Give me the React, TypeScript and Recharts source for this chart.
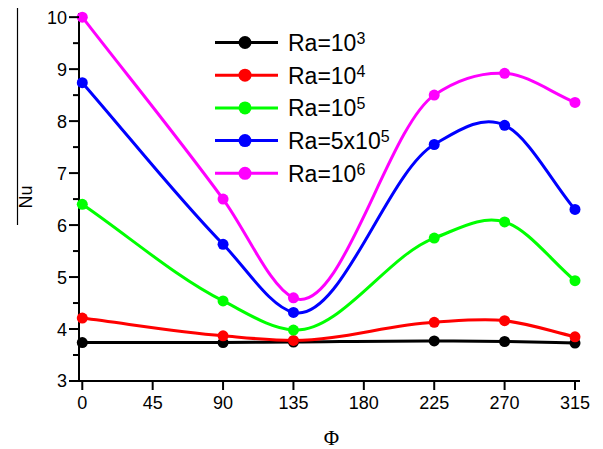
import React from "react";
import { LineChart, Line, XAxis, YAxis } from "recharts";

const PHI = [0, 90, 135, 225, 270, 315];
const RA_1E3 = [3.74, 3.74, 3.75, 3.77, 3.76, 3.73];
const RA_1E4 = [4.21, 3.87, 3.78, 4.13, 4.16, 3.85];
const RA_1E5 = [6.4, 4.54, 3.98, 5.75, 6.06, 4.93];
const RA_5E5 = [8.74, 5.63, 4.32, 7.55, 7.92, 6.3];
const RA_1E6 = [10.0, 6.5, 4.6, 8.5, 8.92, 8.36];

const X_TICKS = [0, 45, 90, 135, 180, 225, 270, 315];
const Y_TICKS = [3, 3.5, 4, 4.5, 5, 5.5, 6, 6.5, 7, 7.5, 8, 8.5, 9, 9.5, 10];

const SERIES = [
  { key: "ra3", base: "Ra=10", exp: "3", color: "#000000", values: RA_1E3 },
  { key: "ra4", base: "Ra=10", exp: "4", color: "#ff0000", values: RA_1E4 },
  { key: "ra5", base: "Ra=10", exp: "5", color: "#00ff00", values: RA_1E5 },
  { key: "ra5x5", base: "Ra=5x10", exp: "5", color: "#0000ff", values: RA_5E5 },
  { key: "ra6", base: "Ra=10", exp: "6", color: "#ff00ff", values: RA_1E6 },
];

const data = PHI.map((phi, i) => {
  const row: Record<string, number> = { phi };
  SERIES.forEach((s) => {
    row[s.key] = s.values[i];
  });
  return row;
});

const FONT = "'Liberation Sans', Arial, sans-serif";
const TICK_SIZE = 10;
const TICK_MARGIN = 2;

// cubic hermite through the points, tangent from the 3-point parabola
// (lets the curve overshoot a bit like the original spline)
function splineCurve(context: any) {
  let xs: number[] = [];
  let ys: number[] = [];
  return {
    areaStart() {},
    areaEnd() {},
    lineStart() {
      xs = [];
      ys = [];
    },
    point(x: number, y: number) {
      xs.push(+x);
      ys.push(+y);
    },
    lineEnd() {
      const n = xs.length;
      if (!n) return;
      context.moveTo(xs[0], ys[0]);
      if (n === 1) return;
      const s: number[] = [];
      const h: number[] = [];
      for (let i = 0; i < n - 1; i++) {
        h.push(xs[i + 1] - xs[i]);
        s.push((ys[i + 1] - ys[i]) / h[i]);
      }
      const m: number[] = [];
      for (let i = 0; i < n; i++) {
        if (i === 0) m.push(s[0]);
        else if (i === n - 1) m.push(s[n - 2]);
        else m.push((h[i] * s[i - 1] + h[i - 1] * s[i]) / (h[i - 1] + h[i]));
      }
      for (let i = 0; i < n - 1; i++) {
        const d = h[i] / 3;
        context.bezierCurveTo(
          xs[i] + d,
          ys[i] + m[i] * d,
          xs[i + 1] - d,
          ys[i + 1] - m[i + 1] * d,
          xs[i + 1],
          ys[i + 1]
        );
      }
    },
  };
}

const YTick = (props: any) => {
  const { x, y, payload } = props;
  const v = payload.value as number;
  const major = Number.isInteger(v);
  const axisX = x + TICK_SIZE + TICK_MARGIN;
  return (
    <g>
      <line
        x1={axisX - (major ? 10 : 6)}
        x2={axisX}
        y1={y}
        y2={y}
        stroke="#000"
        strokeWidth={2}
      />
      {major && (
        <text
          x={axisX - 12}
          y={y}
          dy="0.36em"
          textAnchor="end"
          fontSize={18}
          fontFamily={FONT}
          fill="#000"
        >
          {v}
        </text>
      )}
    </g>
  );
};

function LegendBox() {
  return (
    <svg
      width={200}
      height={170}
      style={{ position: "absolute", left: 205, top: 25, overflow: "visible" }}
    >
      {SERIES.map((s, i) => {
        const cy = 17.5 + i * 32.7;
        return (
          <g key={s.key}>
            <line x1={10} x2={73} y1={cy} y2={cy} stroke={s.color} strokeWidth={3} />
            <circle cx={40} cy={cy} r={6.5} fill={s.color} />
            <text x={83} y={cy + 8.5} fontSize={23} fontFamily={FONT} fill="#000">
              {s.base}
              <tspan fontSize={16} dy={-7}>
                {s.exp}
              </tspan>
            </text>
          </g>
        );
      })}
    </svg>
  );
}

export default function App() {
  return (
    <div style={{ position: "absolute", left: 0, top: 0, width: 603, height: 449, background: "#fff" }}>
      <LineChart
        width={603}
        height={449}
        data={data}
        margin={{ top: 13, right: 23, left: 0, bottom: 28 }}
      >
        <XAxis
          dataKey="phi"
          type="number"
          domain={[-2.1, 318.2]}
          ticks={X_TICKS}
          interval={0}
          height={40}
          tickSize={9}
          tickMargin={6}
          axisLine={{ stroke: "#000", strokeWidth: 2 }}
          tickLine={{ stroke: "#000", strokeWidth: 2 }}
          tick={{ fill: "#000", fontSize: 18, fontFamily: FONT }}
          label={{
            content: (p: any) => {
              const vb = p.viewBox || {};
              return (
                <text
                  x={vb.x + vb.width / 2 + 2}
                  y={445}
                  textAnchor="middle"
                  fontSize={21}
                  fontFamily="'Liberation Serif', 'Times New Roman', serif"
                  fill="#000"
                >
                  Φ
                </text>
              );
            },
          }}
        />
        <YAxis
          type="number"
          domain={[3, 10.08]}
          ticks={Y_TICKS}
          interval={0}
          width={79}
          tickSize={TICK_SIZE}
          tickMargin={TICK_MARGIN}
          tickLine={false}
          axisLine={{ stroke: "#000", strokeWidth: 2 }}
          tick={<YTick />}
          label={{
            content: () => (
              <g>
                <line x1={17.5} x2={17.5} y1={8} y2={225} stroke="#000" strokeWidth={1.2} />
                <text
                  x={0}
                  y={0}
                  transform="translate(32, 197) rotate(-90)"
                  textAnchor="middle"
                  fontSize={18}
                  fontFamily={FONT}
                  fill="#000"
                >
                  Nu
                </text>
              </g>
            ),
          }}
        />
        {SERIES.map((s) => (
          <Line
            key={s.key}
            type={splineCurve as any}
            dataKey={s.key}
            stroke={s.color}
            strokeWidth={3}
            dot={{ r: 5.5, fill: s.color, stroke: s.color, strokeWidth: 0 }}
            activeDot={false}
            isAnimationActive={false}
          />
        ))}
      </LineChart>
      <LegendBox />
    </div>
  );
}
